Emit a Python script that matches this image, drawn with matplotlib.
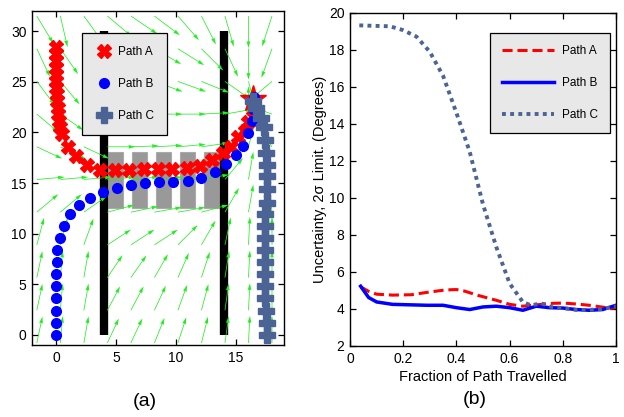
import numpy as np
from matplotlib import pyplot as plt

plt.rcParams['font.family'] = ['Liberation Sans', 'DejaVu Sans']

# --- (a) paths in the field ---
path_a_x = [0, 0, 0, 0, 0, 0, 0, 0.05, 0.1, 0.15, 0.2, 0.25, 0.3, 0.5, 1.0, 1.7, 2.6, 3.7,
            4.9, 6.1, 7.3, 8.5, 9.7, 10.9, 12.0, 13.0, 13.9, 14.6, 15.2, 15.75, 16.0, 16.4]
path_a_y = [28.4, 27.7, 27.1, 26.4, 25.7, 25.1, 24.4, 23.8, 23.1, 22.4, 21.8, 21.1, 20.5, 19.8,
            18.6, 17.65, 16.8, 16.3, 16.25, 16.3, 16.4, 16.4, 16.4, 16.45, 16.7, 17.3, 18.0,
            18.6, 19.5, 20.1, 21.0, 22.2]
path_b_x = [0, 0, 0, 0, 0, 0.02, 0.05, 0.1, 0.33, 0.67, 1.17, 1.94, 2.83, 3.94, 5.06, 6.25,
            7.42, 8.6, 9.78, 11.03, 12.1, 13.25, 14.17, 14.97, 15.6, 16.0, 16.3, 16.4, 16.5]
path_b_y = [0, 1.2, 2.4, 3.6, 4.8, 6.0, 7.2, 8.4, 9.57, 10.8, 11.9, 12.8, 13.5, 14.1, 14.5,
            14.85, 15.05, 15.1, 15.1, 15.2, 15.5, 16.1, 16.9, 17.8, 18.7, 19.9, 21.1, 22.3, 23.5]
path_c_x = [17.55, 17.55, 17.5, 17.45, 17.45, 17.45, 17.4, 17.4, 17.4, 17.4, 17.45, 17.55,
            17.6, 17.55, 17.55, 17.47, 17.4, 17.3, 17.06, 16.7, 16.45]
path_c_y = [0, 1.2, 2.4, 3.6, 4.8, 6.0, 7.2, 8.4, 9.6, 10.8, 11.9, 13.0, 14.4, 15.7, 16.8,
            18.0, 19.3, 20.5, 21.45, 22.4, 23.1]
goal = (16.45, 23.3)

wall_x = [4, 14]
wall_y = [0, 30]
block_x = [4.36, 6.36, 8.36, 10.32, 12.3]
block_w = 1.25
block_y = [12.55, 18.05]

# field arrows: grid of tails, screen angle (deg) per cell, rows from bottom
field_x = [-1.6, 0.36, 2.32, 4.28, 6.24, 8.2, 10.16, 12.12, 14.08, 16.04, 18.0]
field_y = [-0.8, 2.43, 5.66, 8.89, 12.12, 15.35, 18.58, 21.81, 25.04, 28.27, 31.5]
field_ang = [
    [78, 85, 80, 65, 65, 68, 72, 76, 82, 87, 90],
    [78, 85, 80, 62, 62, 65, 70, 75, 82, 87, 90],
    [78, 85, 80, 56, 55, 60, 66, 72, 81, 87, 90],
    [75, 75, 70, 33, 33, 33, 45, 60, 78, 87, 90],
    [40, 40, 35, 15, 12, 10, 10, 15, 60, 80, 95],
    [5, 5, 5, 5, 5, 5, 5, 10, 50, 80, 100],
    [-25, -25, -25, 0, 2, 3, 5, 8, 30, 75, 125],
    [-40, -35, -20, -3, -2, 0, 0, 3, 10, 90, 160],
    [-53, -50, -40, -20, -20, -20, -20, -22, -35, -75, -140],
    [-65, -55, -45, -30, -30, -30, -32, -45, -65, -90, -110],
    [-59, -77, -54, -40, -34, -37, -49, -63, -74, -90, -108],
]
field_len = [27, 27, 27, 28, 28, 28, 28, 28, 30, 31, 32]

# --- (b) uncertainty ---
frac_a = [0.04, 0.07, 0.1, 0.16, 0.23, 0.3, 0.36, 0.4, 0.43, 0.48, 0.55, 0.6, 0.65, 0.7,
          0.75, 0.8, 0.85, 0.9, 0.95, 0.98, 1.0]
unc_a = [5.2, 4.95, 4.8, 4.75, 4.77, 4.92, 5.03, 5.05, 4.97, 4.74, 4.47, 4.25, 4.15, 4.22,
         4.3, 4.32, 4.27, 4.2, 4.1, 4.02, 4.1]
frac_b = [0.04, 0.07, 0.1, 0.16, 0.29, 0.35, 0.4, 0.45, 0.5, 0.55, 0.6, 0.65, 0.7, 0.75,
          0.8, 0.85, 0.9, 0.95, 1.0]
unc_b = [5.23, 4.62, 4.38, 4.25, 4.2, 4.2, 4.07, 3.97, 4.11, 4.15, 4.07, 3.93, 4.15, 4.07,
         4.05, 3.97, 3.93, 3.97, 4.2]
frac_c = [0.035, 0.1, 0.15, 0.2, 0.25, 0.3, 0.35, 0.4, 0.45, 0.5, 0.55, 0.6, 0.65, 0.68,
          0.72, 0.76, 0.8, 0.85, 0.9, 0.95, 1.0]
unc_c = [19.33, 19.3, 19.28, 19.07, 18.72, 17.9, 16.6, 14.6, 12.5, 9.65, 7.35, 5.38, 4.37,
         4.2, 4.3, 4.1, 4.05, 3.95, 3.95, 4.0, 4.15]

red = '#ff0000'
blue = '#0000ff'
steel = '#4b6395'
green = '#22ee22'

fig = plt.figure(figsize=(6.24, 4.17), dpi=100)


def style_axes(ax):
    ax.tick_params(direction='in', top=True, right=True, length=4, width=0.9,
                   labelsize=10, pad=4)
    for s in ax.spines.values():
        s.set_linewidth(1.0)


# (a)
ax1 = fig.add_axes([0.0513, 0.1727, 0.4038, 0.801])
for bx in block_x:
    ax1.add_patch(plt.Rectangle((bx, block_y[0]), block_w, block_y[1] - block_y[0],
                                facecolor='#999999', edgecolor='#aaaaaa', lw=0.8, zorder=1))
for wx in wall_x:
    ax1.plot([wx, wx], wall_y, color='black', lw=6, solid_capstyle='butt', zorder=2)

gx, gy = np.meshgrid(field_x, field_y)
ang = np.radians(np.array(field_ang, dtype=float))
ln = np.array(field_len, dtype=float)[:, None]
ax1.quiver(gx, gy, ln * np.cos(ang), ln * np.sin(ang), angles='uv', scale_units='dots',
           scale=1, color=green, width=0.003, headwidth=5, headlength=9,
           headaxislength=8.5, zorder=3)

ax1.plot(path_a_x, path_a_y, 'X', color=red, ms=10, mec=red, ls='none', zorder=4,
         label='Path A')
ax1.plot([goal[0]], [goal[1]], '*', color=red, ms=20, mec=red, zorder=4)
ax1.plot(path_b_x, path_b_y, 'o', color=blue, ms=7, mec=blue, ls='none', zorder=5,
         label='Path B')
ax1.plot(path_c_x, path_c_y, 'P', color=steel, ms=11, mec=steel, ls='none', zorder=6,
         label='Path C')

ax1.set_xlim(-2, 19)
ax1.set_ylim(-1, 32)
ax1.set_xticks([0, 5, 10, 15])
ax1.set_yticks([0, 5, 10, 15, 20, 25, 30])
style_axes(ax1)
leg1 = ax1.legend(loc='upper left', bbox_to_anchor=(0.198, 0.934), fontsize=8.5,
                  borderpad=1.1, labelspacing=1.7, handlelength=1.5, handletextpad=0.45,
                  fancybox=False, framealpha=1, facecolor='#e8e8e8', edgecolor='black',
                  borderaxespad=0)
leg1.get_frame().set_linewidth(0.9)
leg1.set_zorder(10)

# (b)
ax2 = fig.add_axes([0.5609, 0.1703, 0.4263, 0.7986])
ax2.plot(frac_a, unc_a, color=red, lw=2.2, ls=(0, (3.3, 1.6)), label='Path A')
ax2.plot(frac_b, unc_b, color=blue, lw=2.5, label='Path B')
ax2.plot(frac_c, unc_c, color=steel, lw=2.8, ls=(0, (1, 1.1)), label='Path C')
ax2.set_xlim(0, 1)
ax2.set_ylim(2, 20)
ax2.set_xticks([0, 0.2, 0.4, 0.6, 0.8, 1])
ax2.set_xticklabels(['0', '0.2', '0.4', '0.6', '0.8', '1'])
ax2.set_yticks(range(2, 21, 2))
style_axes(ax2)
ax2.set_xlabel('Fraction of Path Travelled', fontsize=10.5, labelpad=3)
ax2.set_ylabel('Uncertainty, 2\u03c3 Limit. (Degrees)', fontsize=10.5, labelpad=1)
leg2 = ax2.legend(loc='upper left', bbox_to_anchor=(0.526, 0.94), fontsize=8.5,
                  borderpad=1.0, labelspacing=1.7, handlelength=4.4, handletextpad=0.7,
                  fancybox=False, framealpha=1, facecolor='#e8e8e8', edgecolor='black',
                  borderaxespad=0)
leg2.get_frame().set_linewidth(0.9)

fig.text(0.232, 0.036, '(a)', fontsize=14, ha='center', va='center')
fig.text(0.761, 0.041, '(b)', fontsize=14, ha='center', va='center')

fig.savefig('out.png', dpi=100)
